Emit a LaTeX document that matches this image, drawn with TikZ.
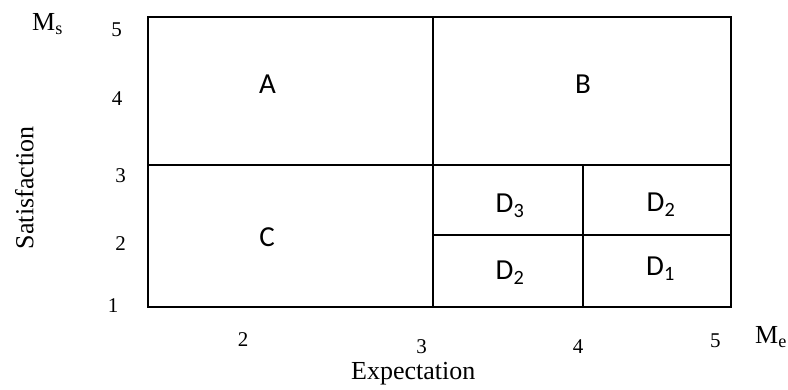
\documentclass[tikz,border=0pt]{standalone}
\usepackage{fontspec}
\setmainfont{Liberation Serif}
\newfontfamily\calsans{Carlito}
\begin{document}
\begin{tikzpicture}[x=1pt,y=-1pt,
  outerline/.style={line width=1.6pt},
  innerline/.style={line width=1.2pt},
  cell/.style={font=\calsans\fontsize{29}{34}\selectfont, anchor=base, inner sep=0pt},
  tick/.style={font=\fontsize{21}{25}\selectfont, anchor=base, inner sep=0pt},
  axislabel/.style={font=\fontsize{26}{31}\selectfont, inner sep=0pt}]
\useasboundingbox (0,0) rectangle (788,390);
% grid
\draw[outerline] (148,17) rectangle (731,307);
\draw[innerline] (433,17) -- (433,307);
\draw[innerline] (148,165) -- (731,165);
\draw[innerline] (583,165) -- (583,307);
\draw[innerline] (433,235) -- (731,235);
% region labels
\node[cell] (A) at (267.5,94) {A};
\node[cell] (B) at (583,94) {B};
\node[cell] (C) at (267,247) {C};
\node[cell] (D3) at (510,212.7) {D\textsubscript{3}};
\node[cell] (D2a) at (661,211.7) {D\textsubscript{2}};
\node[cell] (D2b) at (510,280) {D\textsubscript{2}};
\node[cell] (D1) at (660.5,276) {D\textsubscript{1}};
% y ticks
\node[tick] (y5) at (116.7,36.7) {5};
\node[tick] (y4) at (117,106) {4};
\node[tick] (y3) at (120.5,183) {3};
\node[tick] (y2) at (120.5,250.7) {2};
\node[tick] (y1) at (113,312.7) {1};
% x ticks
\node[tick] (x2) at (243,347) {2};
\node[tick] (x3) at (421.7,354) {3};
\node[tick] (x4) at (578,353.3) {4};
\node[tick] (x5) at (715.3,347.3) {5};
% axis labels
\node[axislabel, anchor=base west] (Ms) at (32,30.7) {M\textsubscript{s}};
\node[axislabel, anchor=base west] (Me) at (755,343.3) {M\textsubscript{e}};
\node[axislabel, anchor=base] (Exp) at (413.3,380) {Expectation};
\node[axislabel, anchor=base, rotate=90] (Sat) at (33.3,187.7) {Satisfaction};
\end{tikzpicture}
\end{document}
